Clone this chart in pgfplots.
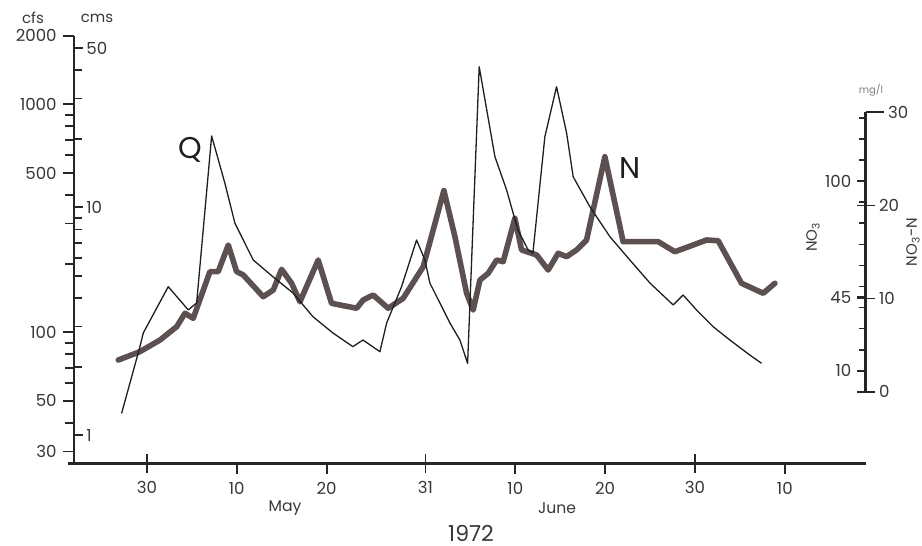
\documentclass[border=0pt]{standalone}
\usepackage{pgfplots}
\pgfplotsset{compat=1.18}
\usepackage{fontspec}
\setmainfont{Poppins}
\definecolor{axiscol}{HTML}{262626}
\definecolor{textcol}{HTML}{383838}
\definecolor{Ncol}{RGB}{92,80,80}
\definecolor{Qcol}{HTML}{1E1E1E}
\newcommand{\ticklab}{\fontsize{8.3}{9}\selectfont}

\pgfplotstableread{
d cfs
-2.82 44.1
-0.78 86.5
-0.41 99.3
2.37 158.5
4.60 125.3
5.53 134.5
7.20 726
8.68 450
9.79 301
11.83 207.5
14.02 175.3
16.25 148.8
18.47 117.1
20.70 99.3
22.92 86.5
24.04 92.5
25.93 82.2
26.68 109.9
28.34 158.5
30.01 254
30.94 207.5
31.49 164.5
33.72 109.9
34.83 92.5
35.69 73.1
36.98 1462
38.73 589
40.03 421
41.29 281
42.43 229.6
42.96 222.7
44.29 721
45.59 1194
46.71 748
47.44 481
49.30 355.5
51.53 262.6
53.75 207.5
55.98 164.5
58.57 131.8
59.68 145.7
61.17 125.3
63.02 105.8
64.88 92.5
67.10 79.5
68.41 73.1
}\Qdata

\pgfplotstableread{
d N
-3.19 3.40
-0.78 4.30
1.45 5.55
3.31 6.98
4.23 8.42
5.15 7.88
7.01 12.89
7.93 12.89
9.05 15.75
9.98 12.89
10.72 12.53
12.94 10.20
14.06 10.92
14.99 13.14
16.10 11.64
17.03 9.66
19.06 14.14
20.55 9.49
23.34 8.96
24.07 9.85
25.18 10.38
26.85 8.96
28.52 10.03
30.75 13.42
33.05 21.60
34.28 16.64
35.58 10.57
36.31 8.77
37.06 11.99
37.98 12.71
38.92 14.14
39.65 13.96
40.95 18.62
41.70 15.22
43.37 14.68
44.66 13.07
45.77 14.86
46.71 14.50
47.82 15.22
48.93 16.29
50.97 25.23
53.00 16.11
56.90 16.11
58.76 15.03
60.79 15.75
62.29 16.29
63.58 16.21
66.18 11.64
68.59 10.57
69.89 11.64
}\Ndata

\begin{document}
\begin{tikzpicture}
\useasboundingbox (0,0) rectangle (461pt,273pt);

% N axis (right, mg/l NO3-N)
\begin{axis}[
  at={(37pt,77.15pt)}, anchor=south west,
  width=395.85pt, height=139.7pt, scale only axis,
  xmin=-8.12, xmax=80, ymin=0, ymax=30,
  hide x axis, axis y line*=right,
  axis line style={line width=1.3pt, color=axiscol},
  ytick={0,10,20}, yticklabels={0,10,20},
  extra y ticks={30}, extra y tick labels={30},
  extra y tick style={tick align=outside},
  tick align=center, major tick length=9pt,
  tick style={line width=0.9pt, color=axiscol},
  tick label style={font=\ticklab, text=textcol},
  yticklabel style={anchor=west, inner sep=0pt, xshift=2pt},
  clip=false,
]
\addplot[Ncol, line width=2.8pt, line join=round, line cap=round] table[x=d, y=N] {\Ndata};
\end{axis}

% NO3 ticks on left side of right axis
\begin{axis}[
  at={(37pt,77.15pt)}, anchor=south west,
  width=395.85pt, height=139.7pt, scale only axis,
  xmin=-8.12, xmax=80, ymin=0, ymax=30,
  hide x axis, axis y line*=right,
  axis line style={line width=1.3pt, color=axiscol},
  ytick={2.259,10.166,22.591}, yticklabels={10,45,100},
  minor ytick={4.518,6.777,9.036,11.295,13.554,15.813,18.072,20.331,24.849,27.108,29.367},
  tick align=inside, major tick length=4.5pt, minor tick length=3.5pt,
  tick style={line width=0.9pt, color=axiscol},
  tick label style={font=\ticklab, text=textcol},
  yticklabel style={anchor=east, inner sep=0pt, xshift=-7pt},
]
\addplot[draw=none] coordinates {(0,0)};
\end{axis}

% cms ticks on the left axis
\begin{axis}[
  at={(37pt,41.35pt)}, anchor=south west,
  width=395.85pt, height=213.8pt, scale only axis,
  xmin=-8.12, xmax=80, ymode=log, ymin=0.7541, ymax=56.633,
  hide x axis, axis y line*=left,
  axis line style={line width=1.3pt, color=axiscol},
  ytick={1,10,50}, yticklabels={1,10,50},
  minor ytick={2,3,4,5,6,7,8,9,20,30,40},
  tick align=inside, major tick length=4.5pt, minor tick length=4pt,
  tick style={line width=0.9pt, color=axiscol},
  tick label style={font=\ticklab, text=textcol},
  yticklabel style={anchor=west, inner sep=0pt, xshift=6pt},
]
\addplot[draw=none] coordinates {(0,1)};
\end{axis}

% main axis: discharge Q in cfs
\begin{axis}[
  at={(37pt,41.35pt)}, anchor=south west,
  width=395.85pt, height=213.8pt, scale only axis,
  xmin=-8.12, xmax=80,
  ymode=log, ymin=26.63, ymax=2000,
  axis x line*=bottom, axis y line*=left,
  axis line style={line width=1.3pt, color=axiscol},
  x axis line style={shorten <=-3pt},
  xtick={10,20,41,51,71}, xticklabels={10,20,10,20,10},
  extra x ticks={0,31,61}, extra x tick labels={30,31,30},
  extra x tick style={tick align=center, major tick length=9.5pt},
  ytick={30,50,100,500,1000,2000}, yticklabels={30,50,100,500,1000,2000},
  minor ytick={40,60,70,80,90,200,300,400,600,700,800,900},
  tick align=outside, major tick length=5.5pt, minor tick length=4.5pt,
  tick style={line width=0.9pt, color=axiscol},
  tick label style={font=\ticklab, text=textcol},
  yticklabel style={anchor=east, inner sep=0pt, xshift=-3pt},
  xticklabel style={anchor=north, inner sep=0pt, yshift=-4pt},
  clip=false,
]
\addplot[Qcol, line width=0.65pt, line join=round] table[x=d, y=cfs] {\Qdata};
\end{axis}

% labels
\node[text=textcol, font=\fontsize{7.5}{8}\selectfont] at (16.5pt,264pt) {cfs};
\node[text=textcol, font=\fontsize{7.5}{8}\selectfont] at (48.5pt,264pt) {cms};
\node[text=Qcol, font=\fontsize{15}{16}\selectfont] at (95pt,198pt) {Q};
\node[text=Qcol, font=\fontsize{15}{16}\selectfont] at (315pt,189pt) {N};
\node[text=textcol, font=\fontsize{7.8}{8}\selectfont] at (142.5pt,19pt) {May};
\node[text=textcol, font=\fontsize{7.8}{8}\selectfont] at (278.5pt,19pt) {June};
\node[text=textcol, font=\fontsize{11}{12}\selectfont] at (235.5pt,6.5pt) {1972};
\node[text=gray, font=\fontsize{5}{6}\selectfont] at (435.5pt,228pt) {mg/l};
\node[text=textcol, font=\fontsize{7.5}{8}\selectfont, rotate=90] at (406.5pt,154.5pt) {NO\textsubscript{3}};
\node[text=textcol, font=\fontsize{7.5}{8}\selectfont, rotate=90] at (456.5pt,152pt) {NO\textsubscript{3}-N};
\end{tikzpicture}
\end{document}
